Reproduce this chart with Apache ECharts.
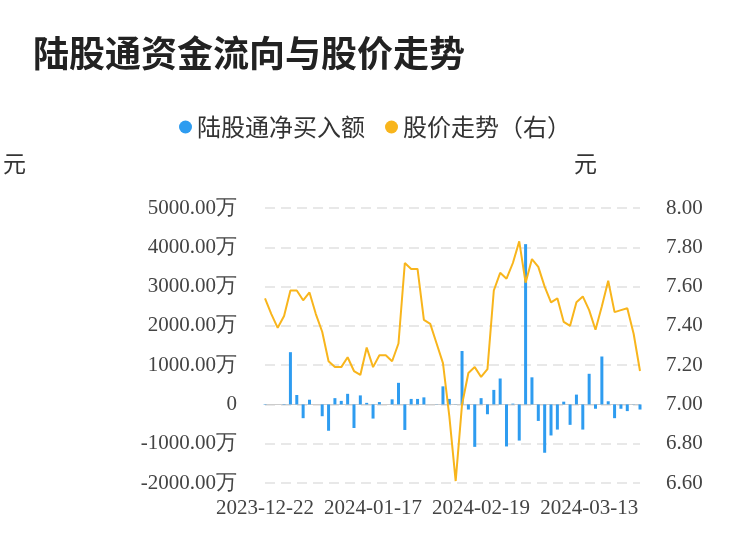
<!DOCTYPE html>
<html><head><meta charset="utf-8">
<script src="https://cdn.jsdelivr.net/npm/echarts@6/dist/echarts.min.js"></script>
<style>html,body{margin:0;padding:0;background:#fff}#c{width:750px;height:558px}</style>
</head><body><div id="c"></div>
<script>
const dates = ["2023-12-22","2023-12-25","2023-12-26","2023-12-27","2023-12-28","2023-12-29","2024-01-02","2024-01-03","2024-01-04","2024-01-05","2024-01-08","2024-01-09","2024-01-10","2024-01-11","2024-01-12","2024-01-15","2024-01-16","2024-01-17","2024-01-18","2024-01-19","2024-01-22","2024-01-23","2024-01-24","2024-01-25","2024-01-26","2024-01-29","2024-01-30","2024-01-31","2024-02-01","2024-02-02","2024-02-05","2024-02-06","2024-02-07","2024-02-08","2024-02-19","2024-02-20","2024-02-21","2024-02-22","2024-02-23","2024-02-26","2024-02-27","2024-02-28","2024-02-29","2024-03-01","2024-03-04","2024-03-05","2024-03-06","2024-03-07","2024-03-08","2024-03-11","2024-03-12","2024-03-13","2024-03-14","2024-03-15","2024-03-18","2024-03-19","2024-03-20","2024-03-21","2024-03-22","2024-03-25"];
const netBuy = [10,0,0,10,1330,240,-350,120,0,-300,-670,160,90,270,-600,230,40,-360,60,0,130,550,-650,140,140,180,0,5,460,140,5,1360,-130,-1080,160,-250,370,660,-1070,20,-920,4080,690,-420,-1230,-790,-640,70,-520,250,-640,780,-110,1220,80,-350,-110,-170,5,-130];
const price = [7.54,7.46,7.39,7.45,7.58,7.58,7.53,7.57,7.46,7.37,7.22,7.19,7.19,7.24,7.17,7.15,7.29,7.19,7.25,7.25,7.22,7.31,7.72,7.69,7.69,7.43,7.41,7.31,7.21,6.94,6.61,7.00,7.16,7.19,7.14,7.18,7.58,7.67,7.64,7.72,7.83,7.62,7.74,7.70,7.60,7.52,7.54,7.42,7.40,7.52,7.55,7.48,7.38,7.50,7.63,7.47,7.48,7.49,7.36,7.17];
const chart = echarts.init(document.getElementById('c'));
const axisFont = {fontFamily:'Liberation Serif', fontSize:21, color:'#444'};
chart.setOption({
  animation:false,
  title:{text:'陆股通资金流向与股价走势', left:28, top:30, textStyle:{fontSize:36, fontWeight:'bold', color:'#222', fontFamily:'Noto Sans CJK SC'}},
  legend:{top:110, left:'center', itemWidth:13, itemHeight:13, icon:'circle', itemGap:20,
    textStyle:{fontSize:24, color:'#333', fontFamily:'Noto Sans CJK SC'},
    data:['陆股通净买入额','股价走势（右）']},
  grid:{left:186, right:110, top:208, bottom:75},
  xAxis:{type:'category', data:dates, boundaryGap:false,
    axisLine:{lineStyle:{color:'#ccc'}}, axisTick:{show:false},
    axisLabel:Object.assign({interval:16, margin:15}, axisFont)},
  yAxis:[
    {type:'value', min:-2000, max:5000, interval:1000, name:'元',
     nameTextStyle:{fontSize:23, color:'#333', fontFamily:'Noto Sans CJK SC', padding:[0,0,8,0], align:'left'},
     nameGap:25, nameLocation:'end',
     axisLabel:Object.assign({margin:28, formatter:v=>v===0?'0':v.toFixed(2)+'万'}, axisFont),
     axisLine:{show:false}, axisTick:{show:false},
     splitLine:{lineStyle:{color:'#e8e8e8', type:[10,6], width:2}}},
    {type:'value', min:6.6, max:8.0, interval:0.2, name:'元',
     nameTextStyle:{fontSize:23, color:'#333', fontFamily:'Noto Sans CJK SC', padding:[0,0,8,0], align:'left'},
     nameGap:25,
     axisLabel:Object.assign({margin:26, formatter:v=>v.toFixed(2)}, axisFont),
     axisLine:{show:false}, axisTick:{show:false}, splitLine:{show:false}}
  ],
  series:[
    {name:'陆股通净买入额', type:'bar', data:netBuy, barWidth:3, itemStyle:{color:'#2e9cf0'}},
    {name:'股价走势（右）', type:'line', yAxisIndex:1, data:price, symbol:'none',
     lineStyle:{color:'#f8b51c', width:2}, itemStyle:{color:'#f8b51c'}}
  ]
});
// position axis names like reference
chart.setOption({yAxis:[{nameTextStyle:{padding:[0,0,8,-262]}},{nameTextStyle:{padding:[0,0,8,-66]}}]});
</script></body></html>
